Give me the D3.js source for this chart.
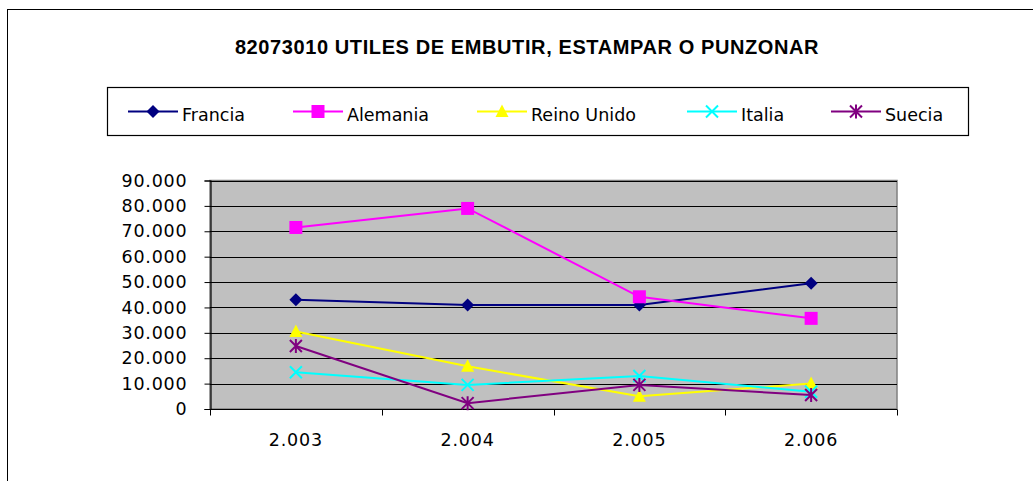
<!DOCTYPE html>
<html>
<head>
<meta charset="utf-8">
<script src="https://cdn.jsdelivr.net/npm/d3@7"></script>
<style>
	body { margin: 0; background: #fff; }
	svg text { fill: #000; }
	.tick-label { font-family: "DejaVu Sans", Verdana, sans-serif; font-size: 17.5px; letter-spacing: 0.8px; }
	.legend-label { font-family: "DejaVu Sans", Verdana, sans-serif; font-size: 17.5px; }
	.title { font-family: "Liberation Sans", Arial, sans-serif; font-size: 20px; font-weight: bold; letter-spacing: 0.6px; }
</style>
</head>
<body>
<div id="chart"></div>
<script>
// data
let years		= [2003, 2004, 2005, 2006];
let yTicks		= [0, 10000, 20000, 30000, 40000, 50000, 60000, 70000, 80000, 90000];
let francia		= [43000, 41000, 41000, 49500];
let alemania	= [71500, 79000, 44200, 35700];
let reinoUnido	= [30500, 16800, 5000, 10000];
let italia		= [14500, 9500, 13000, 6800];
let suecia		= [24800, 2300, 9500, 5500];

let series = [
	{ name: 'Francia',		values: francia,	color: '#000080', marker: 'diamond' },
	{ name: 'Alemania',		values: alemania,	color: '#FF00FF', marker: 'square' },
	{ name: 'Reino Unido',	values: reinoUnido,	color: '#FFFF00', marker: 'triangle' },
	{ name: 'Italia',		values: italia,		color: '#00FFFF', marker: 'cross' },
	{ name: 'Suecia',		values: suecia,		color: '#800080', marker: 'star' }
];

let canvasWidth		= 1033;
let canvasHeight	= 481;
let plot			= { left: 210, right: 897, top: 180.5, bottom: 409 };

let es = d3.formatLocale({ decimal: ',', thousands: '.', grouping: [3], currency: ['', ''] });
let fmt = es.format(',');

let x = d3.scaleBand().domain(years).range([plot.left, plot.right]);
let y = d3.scaleLinear().domain([0, 90000]).range([plot.bottom, plot.top]);

let svg = d3.select('#chart').append('svg')
	.attr('width', canvasWidth)
	.attr('height', canvasHeight);

// outer chart frame
svg.append('rect')
	.attr('x', 7.5).attr('y', 9.5)
	.attr('width', 1100).attr('height', 600)
	.attr('fill', '#fff')
	.attr('stroke', '#000');

svg.append('text')
	.attr('class', 'title')
	.attr('x', 527)
	.attr('y', 54)
	.attr('text-anchor', 'middle')
	.text('82073010 UTILES DE EMBUTIR, ESTAMPAR O PUNZONAR');

// plot area
svg.append('rect')
	.attr('x', plot.left).attr('y', plot.top)
	.attr('width', plot.right - plot.left).attr('height', plot.bottom - plot.top)
	.attr('fill', '#C0C0C0')
	.attr('stroke', '#808080')
	.attr('stroke-width', 1.5);

svg.append('g').selectAll('line')
	.data(yTicks.filter((d) => d > 0)).enter().append('line')
		.attr('x1', plot.left).attr('x2', plot.right)
		.attr('y1', (d) => Math.round(y(d)) + 0.5).attr('y2', (d) => Math.round(y(d)) + 0.5)
		.attr('stroke', '#000');

// y axis
let yAxis = svg.append('g')
	.attr('transform', 'translate(' + (plot.left + 0.5) + ',0)')
	.call(d3.axisLeft(y).tickValues(yTicks).tickFormat(fmt).tickSize(6).tickPadding(17));
yAxis.select('.domain').attr('stroke', '#000').attr('stroke-width', 1.2);
yAxis.selectAll('.tick line').attr('stroke', '#000');
yAxis.selectAll('.tick text').attr('class', 'tick-label').attr('font-size', null).attr('font-family', null);

// x axis, ticks at category boundaries
let xAxis = svg.append('g')
	.attr('transform', 'translate(0,' + (plot.bottom + 0.5) + ')');
xAxis.append('line')
	.attr('x1', plot.left).attr('x2', plot.right)
	.attr('stroke', '#000').attr('stroke-width', 1.2);
let bounds = years.map((d) => x(d)).concat([plot.right]);
xAxis.selectAll('.xtick')
	.data(bounds).enter().append('line')
		.attr('class', 'xtick')
		.attr('x1', (d) => Math.round(d) + 0.5).attr('x2', (d) => Math.round(d) + 0.5)
		.attr('y1', 0).attr('y2', 6)
		.attr('stroke', '#000');
xAxis.selectAll('.xlabel')
	.data(years).enter().append('text')
		.attr('class', 'tick-label')
		.attr('x', (d) => x(d) + x.bandwidth() / 2)
		.attr('y', 36)
		.attr('text-anchor', 'middle')
		.text((d) => fmt(d));

function drawMarker(g, type, color) {
	if (type === 'diamond') {
		g.append('path').attr('d', 'M0,-6.5L6.5,0L0,6.5L-6.5,0Z').attr('fill', color);
	} else if (type === 'square') {
		g.append('rect').attr('x', -6.5).attr('y', -6.5).attr('width', 13).attr('height', 13).attr('fill', color);
	} else if (type === 'triangle') {
		g.append('path').attr('d', 'M0,-7L6.5,5.5L-6.5,5.5Z').attr('fill', color);
	} else if (type === 'cross') {
		g.append('path').attr('d', 'M-6,-6L6,6M-6,6L6,-6').attr('stroke', color).attr('stroke-width', 2);
	} else {
		g.append('path').attr('d', 'M-6,-6L6,6M-6,6L6,-6M0,-7L0,7').attr('stroke', color).attr('stroke-width', 2);
	}
}

let line = d3.line()
	.x((d, i) => x(years[i]) + x.bandwidth() / 2)
	.y((d) => y(d));

series.forEach((s) => {
	let g = svg.append('g');
	g.append('path')
		.attr('d', line(s.values))
		.attr('fill', 'none')
		.attr('stroke', s.color)
		.attr('stroke-width', 2);
	g.selectAll('.mk')
		.data(s.values).enter().append('g')
			.attr('class', 'mk')
			.attr('transform', (d, i) => 'translate(' + (x(years[i]) + x.bandwidth() / 2) + ',' + y(d) + ')')
			.each(function () { drawMarker(d3.select(this), s.marker, s.color); });
});

// legend
let legendX = [128, 293, 477, 687, 831];
let legend = svg.append('g');
legend.append('rect')
	.attr('x', 107.5).attr('y', 87.5)
	.attr('width', 861).attr('height', 48)
	.attr('fill', '#fff')
	.attr('stroke', '#000')
	.attr('stroke-width', 1.2);
let item = legend.selectAll('.item')
	.data(series).enter().append('g')
		.attr('class', 'item')
		.attr('transform', (d, i) => 'translate(' + legendX[i] + ',111.5)');
item.append('line')
	.attr('x1', 0).attr('x2', 50)
	.attr('stroke', (d) => d.color)
	.attr('stroke-width', 2);
item.append('g')
	.attr('transform', 'translate(25,0)')
	.each(function (d) { drawMarker(d3.select(this), d.marker, d.color); });
item.append('text')
	.attr('class', 'legend-label')
	.attr('x', 54)
	.attr('y', 9.5)
	.text((d) => d.name);
</script>
</body>
</html>
